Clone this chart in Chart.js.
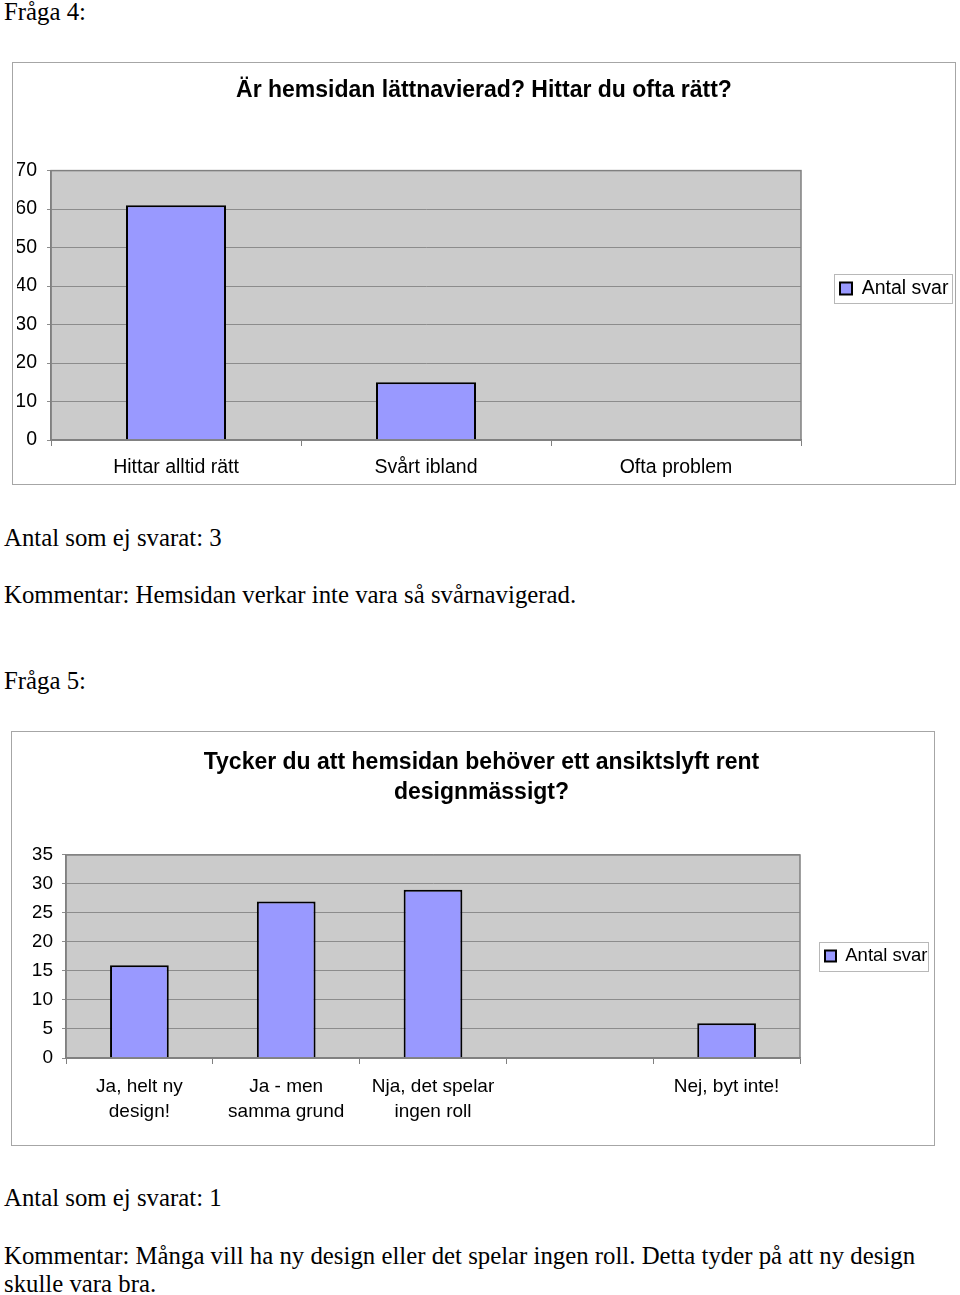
<!DOCTYPE html>
<html>
<head>
<meta charset="utf-8">
<script src="https://cdn.jsdelivr.net/npm/chart.js@4.4.1/dist/chart.umd.min.js"></script>
<style>
body { margin: 0; background: #fff; width: 960px; height: 1295px; position: relative; overflow: hidden; }
.txt { position: absolute; left: 4px; font-family: 'Liberation Serif', 'Times New Roman', serif; font-size: 24.8px; line-height: 28px; color: #000; white-space: nowrap; }
.frame { position: absolute; border: 1px solid #a6a6a6; background: #fff; }
.frame canvas { position: absolute; left: 0; top: 0; }
</style>
</head>
<body>
<div class="txt" style="top:-2px">Fråga 4:</div>
<div class="frame" style="left:12px;top:62px;width:942px;height:421px"><canvas id="chart4" width="942" height="421"></canvas></div>
<div class="txt" style="top:524px">Antal som ej svarat: 3</div>
<div class="txt" style="top:581px">Kommentar: Hemsidan verkar inte vara så svårnavigerad.</div>
<div class="txt" style="top:667px">Fråga 5:</div>
<div class="frame" style="left:11px;top:731px;width:922px;height:413px"><canvas id="chart5" width="922" height="413"></canvas></div>
<div class="txt" style="top:1184px">Antal som ej svarat: 1</div>
<div class="txt" style="top:1242px">Kommentar: Många vill ha ny design eller det spelar ingen roll. Detta tyder på att ny design<br>skulle vara bra.</div>

<script>
// Fråga 4
var q4Title = 'Är hemsidan lättnavierad? Hittar du ofta rätt?';
var q4Labels = ['Hittar alltid rätt', 'Svårt ibland', 'Ofta problem'];
var q4Values = [61, 15, 0];
var q4Max = 70;
var q4Step = 10;

// Fråga 5
var q5Title = ['Tycker du att hemsidan behöver ett ansiktslyft rent', 'designmässigt?'];
var q5Labels = [['Ja, helt ny', 'design!'], ['Ja - men', 'samma grund'], ['Nja, det spelar', 'ingen roll'], '', 'Nej, byt inte!'];
var q5Values = [16, 27, 29, 0, 6];
var q5Max = 35;
var q5Step = 5;

var seriesName = 'Antal svar';

// grey plot area, frame round it, and a box round the legend
var plotFrame = {
    id: 'plotFrame',
    beforeDraw: function(chart, args, opts) {
        var a = chart.chartArea, ctx = chart.ctx;
        ctx.save();
        ctx.fillStyle = '#cbcbcb';
        ctx.fillRect(a.left, a.top, a.right - a.left, a.bottom - a.top);
        ctx.restore();
        if (chart.legend) {
            chart.legend.top = opts.legendY - 50;
            chart.legend.bottom = opts.legendY + 50;
        }
    },
    afterDraw: function(chart, args, opts) {
        var a = chart.chartArea, ctx = chart.ctx;
        ctx.save();
        ctx.strokeStyle = '#808080';
        ctx.lineWidth = 1.5;
        ctx.strokeRect(a.left, a.top, a.right - a.left, a.bottom - a.top);
        var hb = chart.legend.legendHitBoxes[0];
        if (hb) {
            ctx.strokeStyle = '#b8b8b8';
            ctx.lineWidth = 1;
            ctx.strokeRect(Math.round(hb.left - 6) + 0.5, Math.round(opts.legendY - 14.5) + 0.5,
                Math.round(hb.width + 6 + opts.boxRight), 29);
        }
        ctx.restore();
    }
};

function barData(labels, values) {
    return {
        labels: labels,
        datasets: [{
            label: seriesName,
            data: values,
            backgroundColor: '#9999ff',
            borderColor: '#000',
            borderWidth: 2,
            categoryPercentage: 0.8,
            barPercentage: 0.5
        }]
    };
}

var q4Chart = new Chart(document.getElementById('chart4').getContext('2d'), {
    type: 'bar',
    data: barData(q4Labels, q4Values),
    plugins: [plotFrame],
    options: {
        responsive: false,
        animation: false,
        layout: { padding: { left: 4, right: 4, top: 0, bottom: 5 } },
        plugins: {
            plotFrame: { legendY: 225.5, boxRight: 4 },
            title: {
                display: true,
                text: q4Title,
                color: '#000',
                font: { family: 'Liberation Sans', size: 23, weight: 'bold', lineHeight: 1.2 },
                padding: { top: 14, bottom: 66 }
            },
            legend: {
                position: 'right',
                maxWidth: 150,
                labels: {
                    padding: 39,
                    boxWidth: 12,
                    boxHeight: 12,
                    color: '#000',
                    font: { family: 'Liberation Sans', size: 19.5 }
                }
            },
            tooltip: { enabled: false }
        },
        scales: {
            x: {
                grid: { drawOnChartArea: false, tickLength: 6, color: '#808080' },
                border: { color: '#808080', width: 1.5 },
                ticks: { padding: 10.3, color: '#000', maxRotation: 0, font: { family: 'Liberation Sans', size: 19.5, lineHeight: 1.2 } },
                afterFit: function(axis) { axis.height = 39; }
            },
            y: {
                min: 0,
                max: q4Max,
                grid: { color: '#8c8c8c', tickLength: 4 },
                border: { color: '#808080', width: 1.5 },
                ticks: { stepSize: q4Step, padding: 10, color: '#000', font: { family: 'Liberation Sans', size: 19.5 } },
                afterFit: function(axis) { axis.width = 34; }
            }
        }
    }
});

var q5Chart = new Chart(document.getElementById('chart5').getContext('2d'), {
    type: 'bar',
    data: barData(q5Labels, q5Values),
    plugins: [plotFrame],
    options: {
        responsive: false,
        animation: false,
        layout: { padding: { left: 21, right: 4, top: 0, bottom: 4 } },
        plugins: {
            plotFrame: { legendY: 224, boxRight: 0 },
            title: {
                display: true,
                text: q5Title,
                color: '#000',
                font: { family: 'Liberation Sans', size: 23, weight: 'bold', lineHeight: 1.304 },
                padding: { top: 16, bottom: 47 }
            },
            legend: {
                position: 'right',
                maxWidth: 130,
                labels: {
                    padding: 25,
                    boxWidth: 11,
                    boxHeight: 11,
                    color: '#000',
                    font: { family: 'Liberation Sans', size: 18.5 }
                }
            },
            tooltip: { enabled: false }
        },
        scales: {
            x: {
                grid: { drawOnChartArea: false, tickLength: 6, color: '#808080' },
                border: { color: '#808080', width: 1.5 },
                ticks: { padding: 10.5, color: '#000', maxRotation: 0, autoSkip: false, font: { family: 'Liberation Sans', size: 19, lineHeight: 1.316 } },
                afterFit: function(axis) { axis.height = 83; }
            },
            y: {
                min: 0,
                max: q5Max,
                grid: { color: '#8c8c8c', tickLength: 4 },
                border: { color: '#808080', width: 1.5 },
                ticks: { stepSize: q5Step, padding: 9, color: '#000', font: { family: 'Liberation Sans', size: 19 } },
                afterFit: function(axis) { axis.width = 33; }
            }
        }
    }
});
</script>
</body>
</html>
